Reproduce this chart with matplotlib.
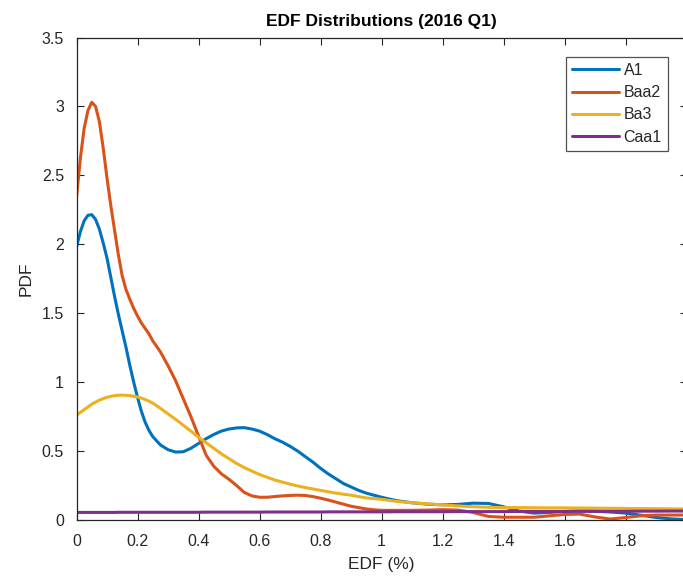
import matplotlib
matplotlib.use("Agg")
import matplotlib.pyplot as plt

plt.rcParams['font.family'] = ['Liberation Sans', 'DejaVu Sans']

edf = [0, 0.0125, 0.025, 0.0375, 0.05, 0.0625, 0.075, 0.0875, 0.1, 0.1125, 0.125, 0.1375,
       0.15, 0.1625, 0.175, 0.1875, 0.2, 0.2125, 0.225, 0.2375, 0.25,
       0.275, 0.3, 0.325, 0.35, 0.375, 0.4, 0.425, 0.45, 0.475, 0.5, 0.525, 0.55, 0.575,
       0.6, 0.625, 0.65, 0.675, 0.7, 0.725, 0.75, 0.775, 0.8, 0.825, 0.85, 0.875, 0.9,
       0.925, 0.95, 0.975, 1.0,
       1.05, 1.1, 1.15, 1.2, 1.25, 1.3, 1.35, 1.4, 1.45, 1.5, 1.55, 1.6, 1.65, 1.7, 1.75,
       1.8, 1.85, 1.9, 1.95, 2.0]

a1 = [1.98, 2.09, 2.17, 2.21, 2.215, 2.18, 2.11, 2.01, 1.90, 1.76, 1.62, 1.49,
      1.37, 1.25, 1.12, 1.00, 0.89, 0.79, 0.71, 0.65, 0.605,
      0.545, 0.51, 0.493, 0.495, 0.52, 0.555, 0.59, 0.62, 0.645, 0.66, 0.668, 0.67, 0.66,
      0.645, 0.62, 0.59, 0.565, 0.535, 0.50, 0.46, 0.42, 0.375, 0.335, 0.30, 0.265, 0.24,
      0.215, 0.195, 0.18, 0.165,
      0.14, 0.125, 0.115, 0.11, 0.113, 0.122, 0.12, 0.096, 0.065, 0.05, 0.055, 0.062, 0.065, 0.064, 0.058,
      0.05, 0.035, 0.018, 0.008, 0.003]

baa2 = [2.34, 2.62, 2.84, 2.97, 3.03, 3.00, 2.89, 2.70, 2.48, 2.28, 2.10, 1.92,
        1.77, 1.67, 1.60, 1.535, 1.48, 1.43, 1.39, 1.35, 1.30,
        1.22, 1.12, 1.01, 0.88, 0.75, 0.61, 0.47, 0.39, 0.335, 0.295, 0.25, 0.20, 0.175,
        0.165, 0.165, 0.17, 0.175, 0.178, 0.18, 0.178, 0.17, 0.158, 0.145, 0.13, 0.115, 0.10,
        0.09, 0.08, 0.074, 0.07,
        0.07, 0.07, 0.072, 0.075, 0.072, 0.055, 0.026, 0.02, 0.02, 0.02, 0.03, 0.04, 0.043, 0.022, 0.007,
        0.018, 0.03, 0.036, 0.036, 0.036]

ba3 = [0.76, 0.78, 0.80, 0.82, 0.84, 0.855, 0.87, 0.88, 0.89, 0.897, 0.902, 0.905,
       0.906, 0.905, 0.902, 0.898, 0.892, 0.884, 0.874, 0.862, 0.848,
       0.81, 0.77, 0.73, 0.687, 0.645, 0.60, 0.56, 0.52, 0.48, 0.445, 0.41, 0.38, 0.355,
       0.33, 0.31, 0.29, 0.275, 0.26, 0.247, 0.235, 0.225, 0.215, 0.205, 0.195, 0.187, 0.18,
       0.17, 0.16, 0.155, 0.15,
       0.135, 0.125, 0.117, 0.11, 0.102, 0.096, 0.092, 0.09, 0.09, 0.089, 0.088, 0.088, 0.087, 0.086, 0.085,
       0.084, 0.083, 0.082, 0.081, 0.08]

caa1 = [0.055, 0.055, 0.055, 0.055, 0.055, 0.055, 0.055, 0.055, 0.055, 0.055, 0.055, 0.056,
        0.056, 0.056, 0.056, 0.056, 0.056, 0.056, 0.056, 0.056, 0.056,
        0.056, 0.056, 0.056, 0.056, 0.056, 0.056, 0.057, 0.057, 0.057, 0.057, 0.057, 0.057, 0.057,
        0.057, 0.058, 0.058, 0.058, 0.058, 0.058, 0.058, 0.058, 0.058, 0.059, 0.059, 0.059, 0.059,
        0.059, 0.059, 0.059, 0.059,
        0.060, 0.060, 0.060, 0.060, 0.061, 0.061, 0.061, 0.061, 0.062, 0.062, 0.062, 0.062, 0.063, 0.063, 0.063,
        0.063, 0.064, 0.064, 0.065, 0.065]

series_names = ['A1', 'Baa2', 'Ba3', 'Caa1']
series_colors = ['#0072BD', '#D95319', '#EDB120', '#7E2F8E']

xticks = [0, 0.2, 0.4, 0.6, 0.8, 1, 1.2, 1.4, 1.6, 1.8, 2]
xticklabels = ['0', '0.2', '0.4', '0.6', '0.8', '1', '1.2', '1.4', '1.6', '1.8', '2']
yticks = [0, 0.5, 1, 1.5, 2, 2.5, 3, 3.5]
yticklabels = ['0', '0.5', '1', '1.5', '2', '2.5', '3', '3.5']

txt = '#262626'
fig = plt.figure(figsize=(6.83, 5.84), dpi=100)
ax = fig.add_axes([76.5 / 683, 64 / 584, 610 / 683, 482.5 / 584])

for name, ys, c in zip(series_names, [a1, baa2, ba3, caa1], series_colors):
    ax.plot(edf, ys, color=c, lw=2.2, label=name, solid_capstyle='round', solid_joinstyle='round')

ax.set_xlim(0, 2)
ax.set_ylim(0, 3.5)
ax.set_xticks(xticks)
ax.set_xticklabels(xticklabels)
ax.set_yticks(yticks)
ax.set_yticklabels(yticklabels)
ax.tick_params(direction='in', length=5, width=0.8, colors=txt, labelsize=11.5,
               top=True, right=True)
ax.tick_params(axis='x', pad=10)
ax.tick_params(axis='y', pad=9)
for s in ax.spines.values():
    s.set_color(txt)
    s.set_linewidth(0.9)

ax.set_xlabel('EDF (%)', fontsize=12.5, color=txt, labelpad=6)
ax.set_ylabel('PDF', fontsize=12.5, color=txt, labelpad=6)
ax.set_title('EDF Distributions (2016 Q1)', fontsize=12.5, fontweight='bold', color='black', pad=8)

leg = ax.legend(loc='upper right', bbox_to_anchor=((668 - 76.5) / 610, 1 - (56.7 - 37.5) / 482.5),
                fontsize=11.5, frameon=True, fancybox=False, handlelength=2.9, handletextpad=0.3,
                borderpad=0.4, labelspacing=0.45, borderaxespad=0)
leg.get_frame().set_edgecolor(txt)
leg.get_frame().set_linewidth(0.9)
for t in leg.get_texts():
    t.set_color(txt)

fig.savefig('out.png', dpi=100)
